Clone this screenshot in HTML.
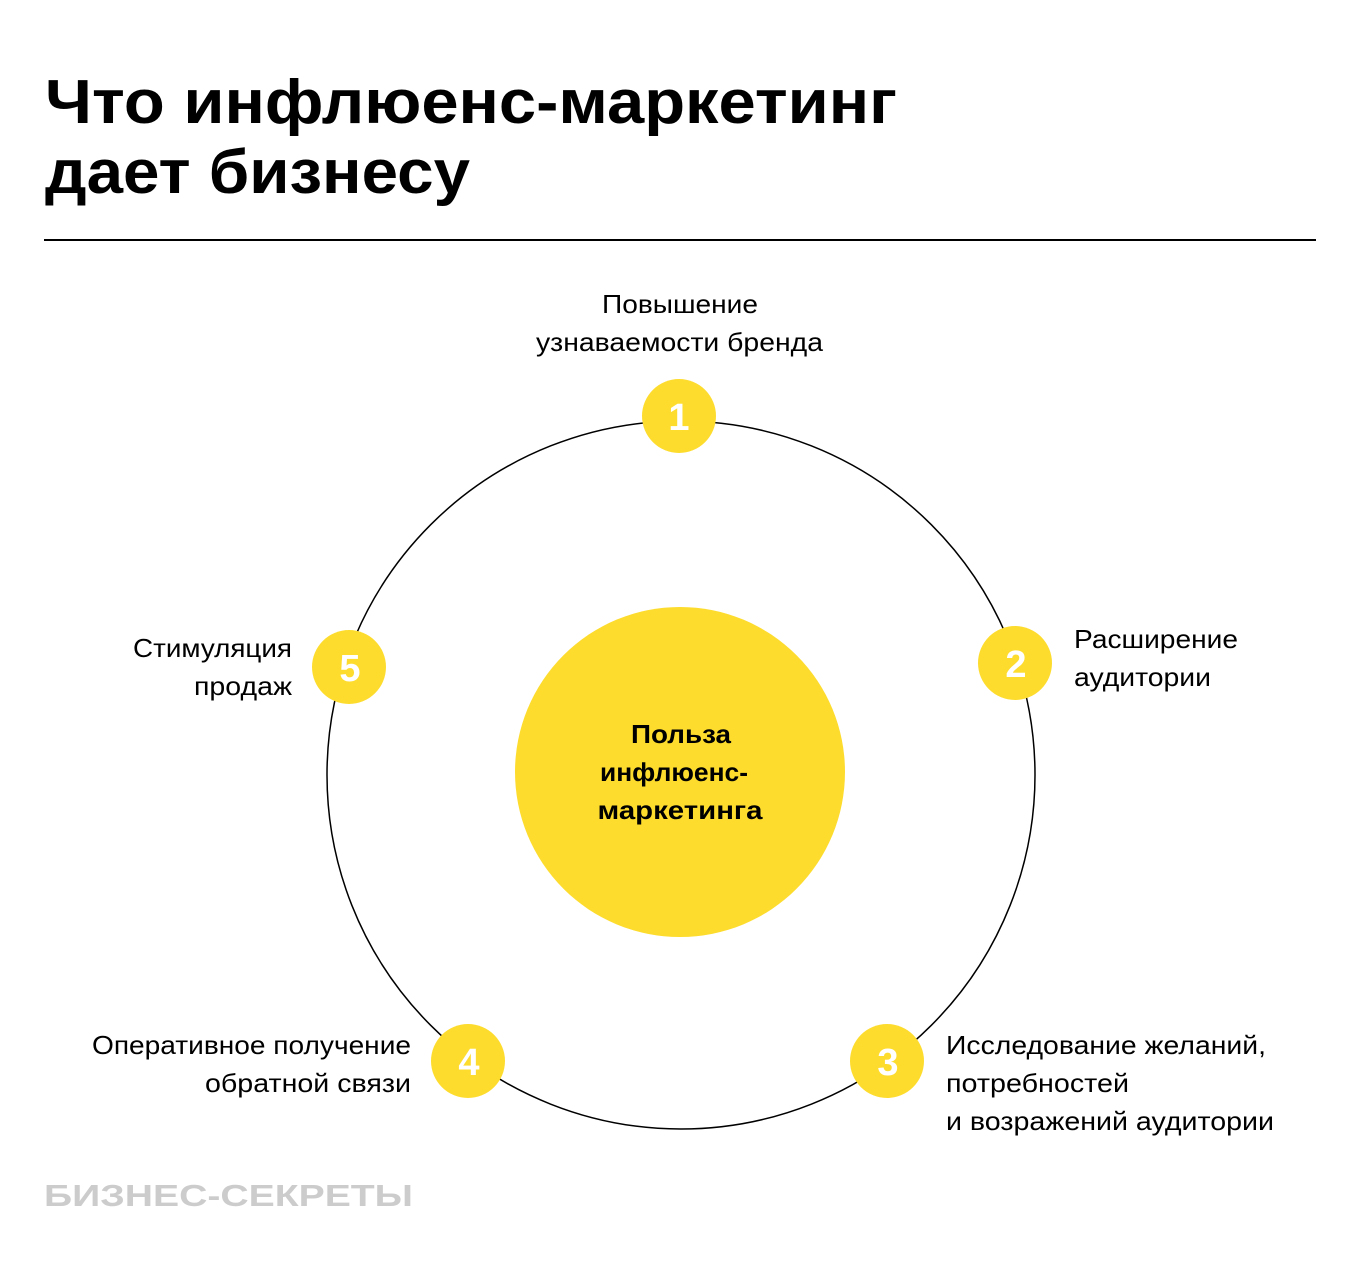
<!DOCTYPE html>
<html><head><meta charset="utf-8"><style>
html,body{margin:0;padding:0;background:#fff;}
svg{display:block;}
text{font-family:"Liberation Sans",sans-serif;}
</style></head><body>
<svg width="1360" height="1272" viewBox="0 0 1360 1272" xmlns="http://www.w3.org/2000/svg">
<rect width="1360" height="1272" fill="#fff"/>
<g font-weight="bold" font-size="62" fill="#000">
<text x="45" y="123" textLength="852" lengthAdjust="spacingAndGlyphs">Что инфлюенс-маркетинг</text>
<text x="45" y="193" textLength="425" lengthAdjust="spacingAndGlyphs">дает бизнесу</text>
</g>
<line x1="44" y1="240" x2="1316" y2="240" stroke="#000" stroke-width="2"/>
<circle cx="681" cy="775" r="354" fill="none" stroke="#000" stroke-width="1.5"/>
<circle cx="680" cy="772" r="165" fill="#fddc2e"/>
<g font-weight="bold" font-size="26" fill="#000" text-anchor="middle" lengthAdjust="spacingAndGlyphs">
<text x="681" y="743" textLength="100" lengthAdjust="spacingAndGlyphs">Польза</text>
<text x="674" y="781" textLength="148" lengthAdjust="spacingAndGlyphs">инфлюенс-</text>
<text x="680" y="819" textLength="165" lengthAdjust="spacingAndGlyphs">маркетинга</text>
</g>
<g fill="#fddc2e">
<circle cx="679" cy="416" r="37"/>
<circle cx="1015" cy="663" r="37"/>
<circle cx="887" cy="1061" r="37"/>
<circle cx="468" cy="1061" r="37"/>
<circle cx="349" cy="667" r="37"/>
</g>
<g font-weight="bold" font-size="38" fill="#fff" text-anchor="middle">
<text x="679" y="430">1</text>
<text x="1016" y="677">2</text>
<text x="888" y="1075">3</text>
<text x="469" y="1075">4</text>
<text x="350" y="681">5</text>
</g>
<g font-size="26" fill="#000">
<text x="602" y="313" textLength="156" lengthAdjust="spacingAndGlyphs">Повышение</text>
<text x="536" y="351" textLength="287" lengthAdjust="spacingAndGlyphs">узнаваемости бренда</text>
<text x="1074" y="648" textLength="164" lengthAdjust="spacingAndGlyphs">Расширение</text>
<text x="1074" y="686" textLength="137" lengthAdjust="spacingAndGlyphs">аудитории</text>
<text x="946" y="1054" textLength="320" lengthAdjust="spacingAndGlyphs">Исследование желаний,</text>
<text x="946" y="1092" textLength="183" lengthAdjust="spacingAndGlyphs">потребностей</text>
<text x="946" y="1130" textLength="328" lengthAdjust="spacingAndGlyphs">и возражений аудитории</text>
<text x="92" y="1054" textLength="319" lengthAdjust="spacingAndGlyphs">Оперативное получение</text>
<text x="205" y="1092" textLength="206" lengthAdjust="spacingAndGlyphs">обратной связи</text>
<text x="133" y="657" textLength="159" lengthAdjust="spacingAndGlyphs">Стимуляция</text>
<text x="194" y="695" textLength="98" lengthAdjust="spacingAndGlyphs">продаж</text>
</g>
<text x="44" y="1206" font-weight="bold" font-size="31" fill="#cccccc" textLength="369" lengthAdjust="spacingAndGlyphs">БИЗНЕС-СЕКРЕТЫ</text>
</svg>
</body></html>
